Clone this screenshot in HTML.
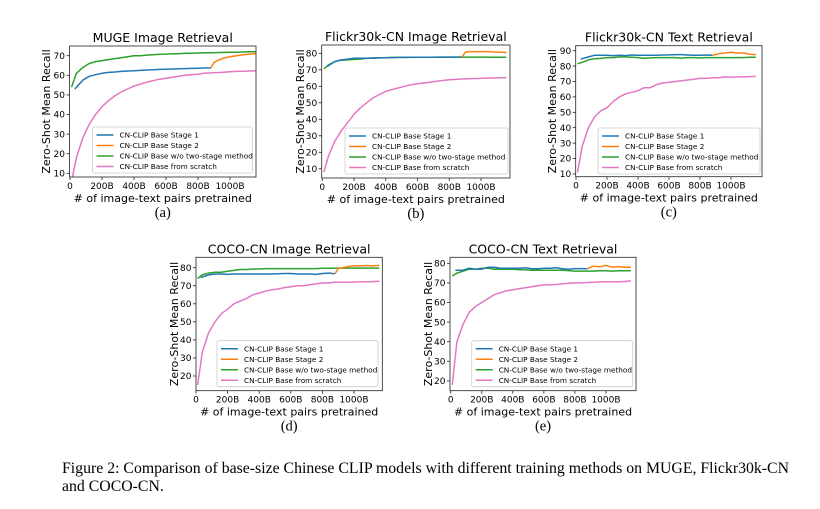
<!DOCTYPE html>
<html><head><meta charset="utf-8">
<style>
html,body{margin:0;padding:0;background:#fff;}
svg{display:block;}
text{font-family:"DejaVu Sans","Liberation Sans",sans-serif;fill:#000;}
.cap{font-family:"Liberation Serif",serif;font-size:15.8px;}
</style></head>
<body>
<svg id="fig" width="820" height="509" viewBox="0 0 820 509" xmlns="http://www.w3.org/2000/svg">
<text class="cap" x="62" y="473">Figure 2: Comparison of base-size Chinese CLIP models with different training methods on MUGE, Flickr30k-CN</text>
<text class="cap" x="62" y="491">and COCO-CN.</text>
</svg>
<script>
// shared x grids (B pairs)
const gridX = [10,40,80,120,160,200,240,280,320,360,400,440,480,520,560,600,640,680,720,760,800,840,880,920,960,1000,1040,1080,1120,1160];
const stage1X = [30,80,120,160,200,240,280,320,360,400,440,480,520,560,600,640,680,720,760,800,840,880];
const stage2X = [880,900,920,960,1000,1040,1080,1120,1160];
const xTicks = [0,200,400,600,800,1000];
const xTickLabels = ["0","200B","400B","600B","800B","1000B"];
const seriesNames = ["CN-CLIP Base Stage 1","CN-CLIP Base Stage 2","CN-CLIP Base w/o two-stage method","CN-CLIP Base from scratch"];

// (a) MUGE Image Retrieval
const aStage1 = [53,57.5,59.5,60.3,61,61.5,61.7,62,62.2,62.3,62.5,62.7,62.8,63,63.1,63.2,63.3,63.4,63.5,63.6,63.7,63.8];
const aStage2 = [63.8,66.5,67.5,68.7,69.5,70,70.5,70.8,71];
const aWo = [54,61,64,66,67,67.5,68,68.5,69,69.5,70,70,70.3,70.5,70.7,70.8,71,71,71.2,71.3,71.4,71.5,71.5,71.6,71.7,71.8,71.8,71.9,72,72];
const aScratch = [6,18,28,35,40,44,47,49.5,51.5,53,54.5,55.5,56.5,57.3,58,58.5,59,59.5,60,60.3,60.6,61,61.2,61.4,61.6,61.8,62,62.1,62.2,62.3];
const aYTicks = [10,20,30,40,50,60,70];
// (b) Flickr30k-CN Image Retrieval
const bStage1 = [72,75,76,76.5,77,77,77,77.2,77.3,77.3,77.4,77.5,77.5,77.6,77.6,77.6,77.6,77.7,77.7,77.7,77.7,77.7];
const bStage2 = [77.7,80.5,81,81,81,81,80.8,80.7,80.5];
const bWo = [70.5,73,75,75.8,76,76.3,76.5,77,77,77.2,77.3,77.5,77.5,77.5,77.5,77.6,77.6,77.6,77.6,77.7,77.7,77.7,77.7,77.7,77.7,77.7,77.7,77.6,77.6,77.6];
const bScratch = [8,18,27,33,38,43,47,50,53,55,57,58,59,60,61,61.5,62,62.5,63,63.5,64,64.2,64.4,64.6,64.7,64.8,65,65,65.2,65.3];
const bYTicks = [10,20,30,40,50,60,70,80];
// (c) Flickr30k-CN Text Retrieval
const cStage1 = [84.5,86,87,87,87,86.8,87,86.8,87.2,87,87,87,87,87.2,87.3,87.5,87.5,87.2,87,87,87.2,87];
const cStage2 = [87,87.5,88,88.5,89,88.5,88.5,87.8,87.5];
const cWo = [81.5,82.5,84,84.8,85,85.5,85.5,86,86,85.8,85.5,85,85.3,85.5,85.5,85.5,85.5,85.2,85.5,85.5,85.3,85.5,85.5,85.5,85.5,85.5,85.5,85.5,85.8,85.8];
const cScratch = [11,28,40,47,51,53,57,60,62,63,64,66,66,68,69,69.5,70,70.5,71,71.5,72,72,72.5,72.5,73,72.8,73,73,73.2,73.3];
const cYTicks = [10,20,30,40,50,60,70,80,90];
// (d) COCO-CN Image Retrieval
const dStage1 = [74.5,76,76.5,76.5,76.3,76.5,76.5,76.5,76.5,76.5,76.5,76.5,76.7,76.8,76.8,76.5,76.5,76.5,76.3,76.8,77,76.7];
const dStage2 = [76.7,79.5,80,80.5,81,81,81.2,81,81.3];
const dWo = [74,76,77,77.5,77.5,78,78.5,79,79,79.3,79.3,79.5,79.5,79.5,79.5,79.5,79.5,79.5,79.5,79.5,79.7,79.7,79.7,79.8,79.8,79.8,79.8,79.8,79.8,79.8];
const dScratch = [15,33,44,50,54.5,57,60,61.5,63,65,66,67,67.8,68.2,69,69.5,70,70,70.5,71,71.5,71.5,72,72,72,72,72.2,72.2,72.3,72.5];
const dYTicks = [20,30,40,50,60,70,80];
// (e) COCO-CN Text Retrieval
const eStage1 = [76.5,76.5,77.5,77,77,78,78,77.5,77.5,77.5,77.5,77.7,77.3,77.2,77.5,77.5,77.7,77.2,77,77.3,77.3,77.2];
const eStage2 = [77.2,78,78.5,78.2,79,78,78.3,78,78];
const eWo = [73.5,75,76,77,77,77.5,77.5,77,77,77,77,76.8,76.7,76.5,76.5,76.5,76.5,76.5,76.5,76.3,76,76,76,76,76.2,76.2,76,76.2,76.2,76.2];
const eScratch = [18,40,49,55,58,60,62,64,65,66,66.5,67,67.5,68,68.5,69,69,69.2,69.5,69.8,70,70,70.2,70.3,70.5,70.5,70.5,70.6,70.7,71];
const eYTicks = [20,30,40,50,60,70,80];

const NS = "http://www.w3.org/2000/svg";
const svg = document.getElementById('fig');
const colors = ["#1f77b4","#ff7f0e","#2ca02c","#e377c2"];
function mk(tag, attrs, parent){
  const e = document.createElementNS(NS, tag);
  for (const k in attrs) e.setAttribute(k, attrs[k]);
  (parent||svg).appendChild(e);
  return e;
}
function panel(p){
  const g = mk('g', {});
  
  
  const xs = v => p.x0 + v * p.xPer1000 / 1000;
  const ys = v => p.yRefPx - (v - p.yRefVal) * p.yPer10 / 10;
  const cid = 'clip-' + p.id;
  const cp = mk('clipPath', {id: cid}, g);
  mk('rect', {x:p.L, y:p.T, width:p.R-p.L, height:p.B-p.T}, cp);
  const sets = [[stage1X,p.s1],[stage2X,p.s2],[gridX,p.wo],[gridX,p.sc]];
  const order = [3,2,0,1];
  order.forEach(i=>{
    const [xa, ya] = sets[i];
    const d = ya.map((v,j)=>(j?'L':'M')+xs(xa[j]).toFixed(1)+','+ys(v).toFixed(1)).join(' ');
    const pl = mk('path', {d, fill:'none', stroke:colors[i], 'stroke-width':1.5, 'stroke-linejoin':'round', 'clip-path':'url(#'+cid+')'}, g);
    
    
  });
  const fr = mk('rect', {x:p.L, y:p.T, width:p.R-p.L, height:p.B-p.T, fill:'none', stroke:'#222', 'stroke-width':0.8}, g);
  
  
  p.yt.forEach(v=>{
    const y = ys(v);
    mk('line', {x1:p.L-3, x2:p.L, y1:y, y2:y, stroke:'#222', 'stroke-width':0.8}, g);
    const t = mk('text', {x:p.L-4.5, y:y+3.2, 'font-size':9, 'text-anchor':'end'}, g);
    t.textContent = v;
    
    
  });
  xTicks.forEach((v,i)=>{
    const x = xs(v);
    mk('line', {x1:x, x2:x, y1:p.B, y2:p.B+3, stroke:'#222', 'stroke-width':0.8}, g);
    const t = mk('text', {x:x, y:p.B+12, 'font-size':9, 'text-anchor':'middle'}, g);
    t.textContent = xTickLabels[i];
    
    
  });
  const cx = (p.L+p.R)/2;
  const ti = mk('text', {x:cx, y:p.T-4, 'font-size':12.5, 'text-anchor':'middle'}, g);
  ti.textContent = p.title;
  
  
  const xl = mk('text', {x:cx, y:p.B+25, 'font-size':11, 'text-anchor':'middle'}, g);
  xl.textContent = '# of image-text pairs pretrained';
  
  
  const cy = (p.T+p.B)/2;
  const yl = mk('text', {x:p.yLabX, y:cy, 'font-size':11, 'text-anchor':'middle', transform:'rotate(-90 '+p.yLabX+' '+cy+')'}, g);
  yl.textContent = 'Zero-Shot Mean Recall';
  
  
  const sub = mk('text', {x:cx, y:p.B+40, 'font-size':14.5, 'text-anchor':'middle', style:'font-family:"Liberation Serif",serif'}, g);
  sub.textContent = '(' + p.id + ')';
  
  
  const lg = mk('g', {}, g);
  
  
  mk('rect', {x:p.lg[0], y:p.lg[1], width:p.lg[2], height:46, fill:'#fff', 'fill-opacity':0.85, stroke:'#ccc', 'stroke-width':0.8, rx:2}, lg);
  seriesNames.forEach((n,i)=>{
    const y = p.lg[1] + 8 + i*10.5;
    mk('line', {x1:p.lg[0]+4, x2:p.lg[0]+21, y1:y, y2:y, stroke:colors[i], 'stroke-width':1.5}, lg);
    const t = mk('text', {x:p.lg[0]+27, y:y+2.6, 'font-size':7.3}, lg);
    t.textContent = n;
    
    
  });
}
panel({id:'a', title:'MUGE Image Retrieval', L:69.5, R:256, T:46, B:177, x0:70, xPer1000:160, yRefVal:70, yRefPx:55.7, yPer10:19.6, yt:aYTicks, yLabX:50, lg:[92.5,127,160], s1:aStage1, s2:aStage2, wo:aWo, sc:aScratch});
panel({id:'b', title:'Flickr30k-CN Image Retrieval', L:321.7, R:510, T:45, B:178, x0:322.3, xPer1000:158.7, yRefVal:80, yRefPx:53.3, yPer10:16.5, yt:bYTicks, yLabX:304, lg:[345,128,163], s1:bStage1, s2:bStage2, wo:bWo, sc:bScratch});
panel({id:'c', title:'Flickr30k-CN Text Retrieval', L:575.7, R:762, T:45.7, B:176.7, x0:576, xPer1000:155, yRefVal:90, yRefPx:50.7, yPer10:15.4, yt:cYTicks, yLabX:556, lg:[598,128,162], s1:cStage1, s2:cStage2, wo:cWo, sc:cScratch});
panel({id:'d', title:'COCO-CN Image Retrieval', L:196, R:382.3, T:257.3, B:390.7, x0:196, xPer1000:158, yRefVal:80, yRefPx:267.7, yPer10:18.05, yt:dYTicks, yLabX:178, lg:[217,340.7,161], s1:dStage1, s2:dStage2, wo:dWo, sc:dScratch});
panel({id:'e', title:'COCO-CN Text Retrieval', L:450, R:636, T:257.3, B:390.7, x0:450.7, xPer1000:155.3, yRefVal:80, yRefPx:263.3, yPer10:19.6, yt:eYTicks, yLabX:432, lg:[471.7,340.7,161], s1:eStage1, s2:eStage2, wo:eWo, sc:eScratch});
</script>
</body></html>
